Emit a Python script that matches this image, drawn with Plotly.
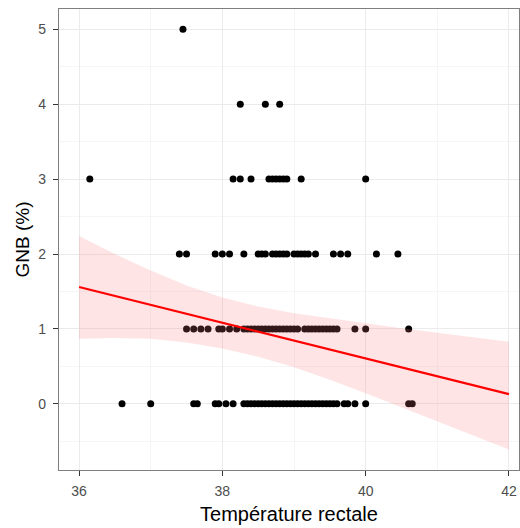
import plotly.graph_objects as go

# Observed points: x values (rectal temperature) for each GNB level
row0_x = [36.6, 37.0, 37.6, 37.65, 37.9, 37.95, 38.05, 38.15, 38.3, 38.35, 38.4, 38.45, 38.5,
          38.55, 38.6, 38.65, 38.7, 38.75, 38.8, 38.85, 38.9, 38.95, 39.0, 39.05, 39.1,
          39.15, 39.2, 39.25, 39.3, 39.35, 39.4, 39.45, 39.5, 39.55, 39.6, 39.7, 39.75,
          39.85, 40.0, 40.6, 40.65]
row1_x = [37.5, 37.6, 37.7, 37.8, 37.95, 38.0, 38.1, 38.2, 38.3, 38.35, 38.4, 38.45, 38.5,
          38.55, 38.6, 38.65, 38.7, 38.75, 38.8, 38.85, 38.9, 38.95, 39.0, 39.05, 39.15,
          39.2, 39.25, 39.3, 39.35, 39.4, 39.45, 39.5, 39.55, 39.6, 39.85, 40.0, 40.6]
row2_x = [37.4, 37.5, 37.9, 38.0, 38.1, 38.3, 38.5, 38.55, 38.6, 38.7, 38.75, 38.8, 38.85,
          38.9, 39.0, 39.05, 39.1, 39.15, 39.2, 39.3, 39.55, 39.65, 39.75, 40.15, 40.45]
row3_x = [36.15, 38.15, 38.25, 38.4, 38.65, 38.7, 38.75, 38.8, 38.85, 38.9, 39.1, 40.0]
row4_x = [38.25, 38.6, 38.8]
row5_x = [37.45]
levels = [0, 1, 2, 3, 4, 5]

# Fitted line and confidence band
fit_x = [36, 36.5, 37, 37.5, 38, 38.5, 39, 39.5, 40, 40.5, 41, 41.5, 42]
fit_y = [1.56, 1.44, 1.32, 1.20, 1.08, 0.96, 0.84, 0.72, 0.61, 0.49, 0.37, 0.25, 0.13]
band_hi = [2.24, 2.00, 1.78, 1.58, 1.42, 1.30, 1.21, 1.14, 1.08, 1.01, 0.95, 0.89, 0.83]
band_lo = [0.87, 0.88, 0.87, 0.82, 0.74, 0.63, 0.49, 0.32, 0.14, -0.04, -0.23, -0.42, -0.61]

x_ticks = [36, 38, 40, 42]
y_ticks = [0, 1, 2, 3, 4, 5]

rows = [row0_x, row1_x, row2_x, row3_x, row4_x, row5_x]
px, py = [], []
for lev, xs in zip(levels, rows):
    px += xs
    py += [lev] * len(xs)

fig = go.Figure()
fig.add_trace(go.Scatter(x=px, y=py, mode="markers",
                         marker=dict(color="black", size=7, line=dict(width=0)),
                         hoverinfo="skip", showlegend=False))
fig.add_trace(go.Scatter(x=fit_x + fit_x[::-1], y=band_hi + band_lo[::-1],
                         fill="toself", fillcolor="rgba(248,118,118,0.2)",
                         line=dict(width=0), mode="lines", hoverinfo="skip",
                         showlegend=False))
fig.add_trace(go.Scatter(x=fit_x, y=fit_y, mode="lines",
                         line=dict(color="#ff0000", width=2.2),
                         hoverinfo="skip", showlegend=False))

FONT = "Liberation Sans, Arial, sans-serif"
axis_common = dict(
    showgrid=True, gridcolor="#ebebeb", gridwidth=1,
    zeroline=False, showline=True, linecolor="#7f7f7f", linewidth=1.2, mirror=True,
    ticks="outside", ticklen=5, tickcolor="#333333", tickwidth=1,
    automargin=False,
)

fig.update_layout(
    width=520, height=528,
    margin=dict(l=59, r=1, t=9, b=58),
    plot_bgcolor="white", paper_bgcolor="white",
    font=dict(family=FONT),
    xaxis=dict(range=[35.72, 42.14], tickvals=x_ticks, ticklabelstandoff=3,
               tickfont=dict(family=FONT, size=14, color="#4d4d4d"),
               title=dict(text="Température rectale", standoff=9,
                          font=dict(size=20, color="black")),
               **axis_common),
    yaxis=dict(range=[-0.883, 5.27], tickvals=y_ticks, ticklabelstandoff=4,
               tickfont=dict(family=FONT, size=14, color="#4d4d4d"),
               title=dict(text="GNB (%)", standoff=3,
                          font=dict(size=19, color="black")),
               **axis_common),
)
fig.update_xaxes(minor=dict(tickvals=[37, 39, 41], showgrid=True, gridcolor="#f5f5f5", ticks=""))
fig.update_yaxes(minor=dict(tickvals=[-0.5, 0.5, 1.5, 2.5, 3.5, 4.5], showgrid=True,
                            gridcolor="#f5f5f5", ticks=""))

fig.write_html(
    "out.html",
    config={"displayModeBar": False},
    post_script="document.body.style.margin='0';document.body.style.padding='0';"
                "document.body.style.overflow='hidden';"
                "document.documentElement.style.overflow='hidden';",
)
